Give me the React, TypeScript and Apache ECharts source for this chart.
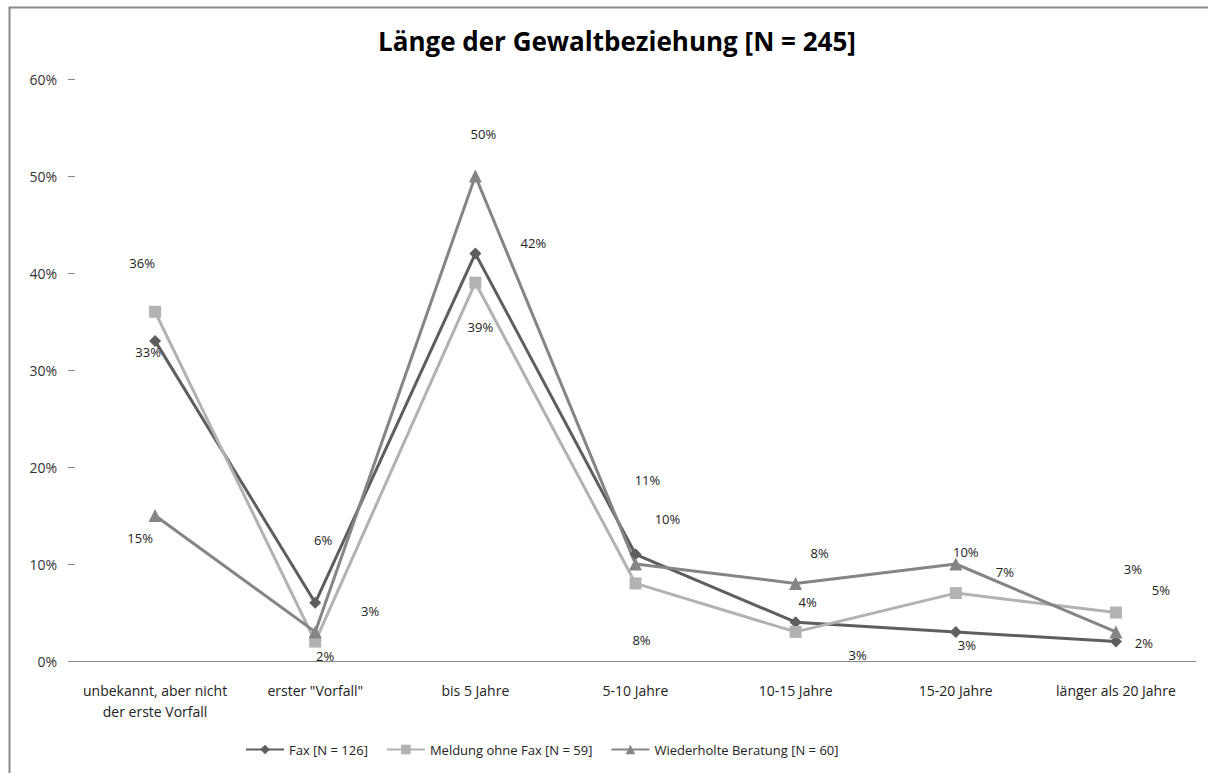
import React, { useEffect, useRef } from "react";
import * as echarts from "echarts";

const categories = [
  "unbekannt, aber nicht\nder erste Vorfall",
  'erster "Vorfall"',
  "bis 5 Jahre",
  "5-10 Jahre",
  "10-15 Jahre",
  "15-20 Jahre",
  "länger als 20 Jahre",
];
const faxValues = [33, 6, 42, 11, 4, 3, 2];
const meldungValues = [36, 2, 39, 8, 3, 7, 5];
const wiederholtValues = [15, 3, 50, 10, 8, 10, 3];
const yTicks = [0, 10, 20, 30, 40, 50, 60];

// label offsets (pixels, relative to each point)
const faxLabelOffsets = [[-7, 11], [8, -63], [58, -11], [12, -74], [12, -20], [11, 13], [28, 1]];
const meldungLabelOffsets = [[-13, -49], [10, 14], [5, 44], [6, 57], [62, 23], [49, -21], [45, -23]];
const wiederholtLabelOffsets = [[-15, 22], [55, -21], [8, -42], [32, -45], [24, -30], [10, -12], [17, -63]];

const FONT = "'Open Sans', 'Liberation Sans', sans-serif";

function mkSeries(name: string, values: number[], offsets: number[][], color: string, symbol: string, size: number) {
  return {
    name,
    type: "line",
    data: values.map((v, i) => ({
      value: v,
      label: { offset: offsets[i] },
    })),
    symbol,
    symbolSize: size,
    lineStyle: { color, width: 3 },
    itemStyle: { color },
    label: {
      show: true,
      position: "inside",
      formatter: (p: any) => p.value + "%",
      color: "#222",
      fontSize: 13,
      fontFamily: FONT,
    },
    emphasis: { disabled: true },
  };
}

export default function App() {
  const ref = useRef<HTMLDivElement>(null);
  useEffect(() => {
    if (!ref.current) return;
    const chart = echarts.init(ref.current, undefined, { renderer: "svg" });
    chart.setOption({
      animation: false,
      backgroundColor: "#fff",
      title: {
        text: "Länge der Gewaltbeziehung [N = 245]",
        left: 373,
        top: 23,
        textStyle: { fontSize: 26, fontWeight: "bold", color: "#000", fontFamily: FONT },
      },
      graphic: [
        {
          type: "rect",
          shape: { x: 9.5, y: 7.5, width: 1220, height: 800 },
          style: { fill: "none", stroke: "#8a8a8a", lineWidth: 2 },
          silent: true,
        },
      ],
      grid: { left: 75, right: 12, top: 79, bottom: 112 },
      legend: {
        left: 240,
        top: 738,
        itemWidth: 38,
        itemHeight: 12,
        itemGap: 18,
        textStyle: { fontSize: 13, color: "#222", fontFamily: FONT },
        data: ["Fax [N = 126]", "Meldung ohne Fax [N = 59]", "Wiederholte Beratung [N = 60]"],
      },
      xAxis: {
        type: "category",
        data: categories,
        boundaryGap: true,
        axisLine: { show: true, lineStyle: { color: "#888", width: 1 } },
        axisTick: { show: false },
        axisLabel: { color: "#222", fontSize: 14, fontFamily: FONT, margin: 19, lineHeight: 21, interval: 0 },
      },
      yAxis: {
        type: "value",
        min: yTicks[0],
        max: yTicks[yTicks.length - 1],
        interval: 10,
        axisLine: { show: false },
        axisTick: { show: true, length: 7, lineStyle: { color: "#888" } },
        splitLine: { show: false },
        axisLabel: { color: "#333", fontSize: 14, fontFamily: FONT, margin: 18, formatter: "{value}%" },
      },
      series: [
        mkSeries("Fax [N = 126]", faxValues, faxLabelOffsets, "#5e5e5e", "diamond", 12),
        mkSeries("Meldung ohne Fax [N = 59]", meldungValues, meldungLabelOffsets, "#b2b2b2", "rect", 12),
        mkSeries("Wiederholte Beratung [N = 60]", wiederholtValues, wiederholtLabelOffsets, "#858585", "triangle", 13),
      ],
    });
    return () => chart.dispose();
  }, []);
  return (
    <div
      ref={ref}
      style={{ position: "absolute", left: 0, top: 0, width: 1208, height: 773 }}
    />
  );
}
